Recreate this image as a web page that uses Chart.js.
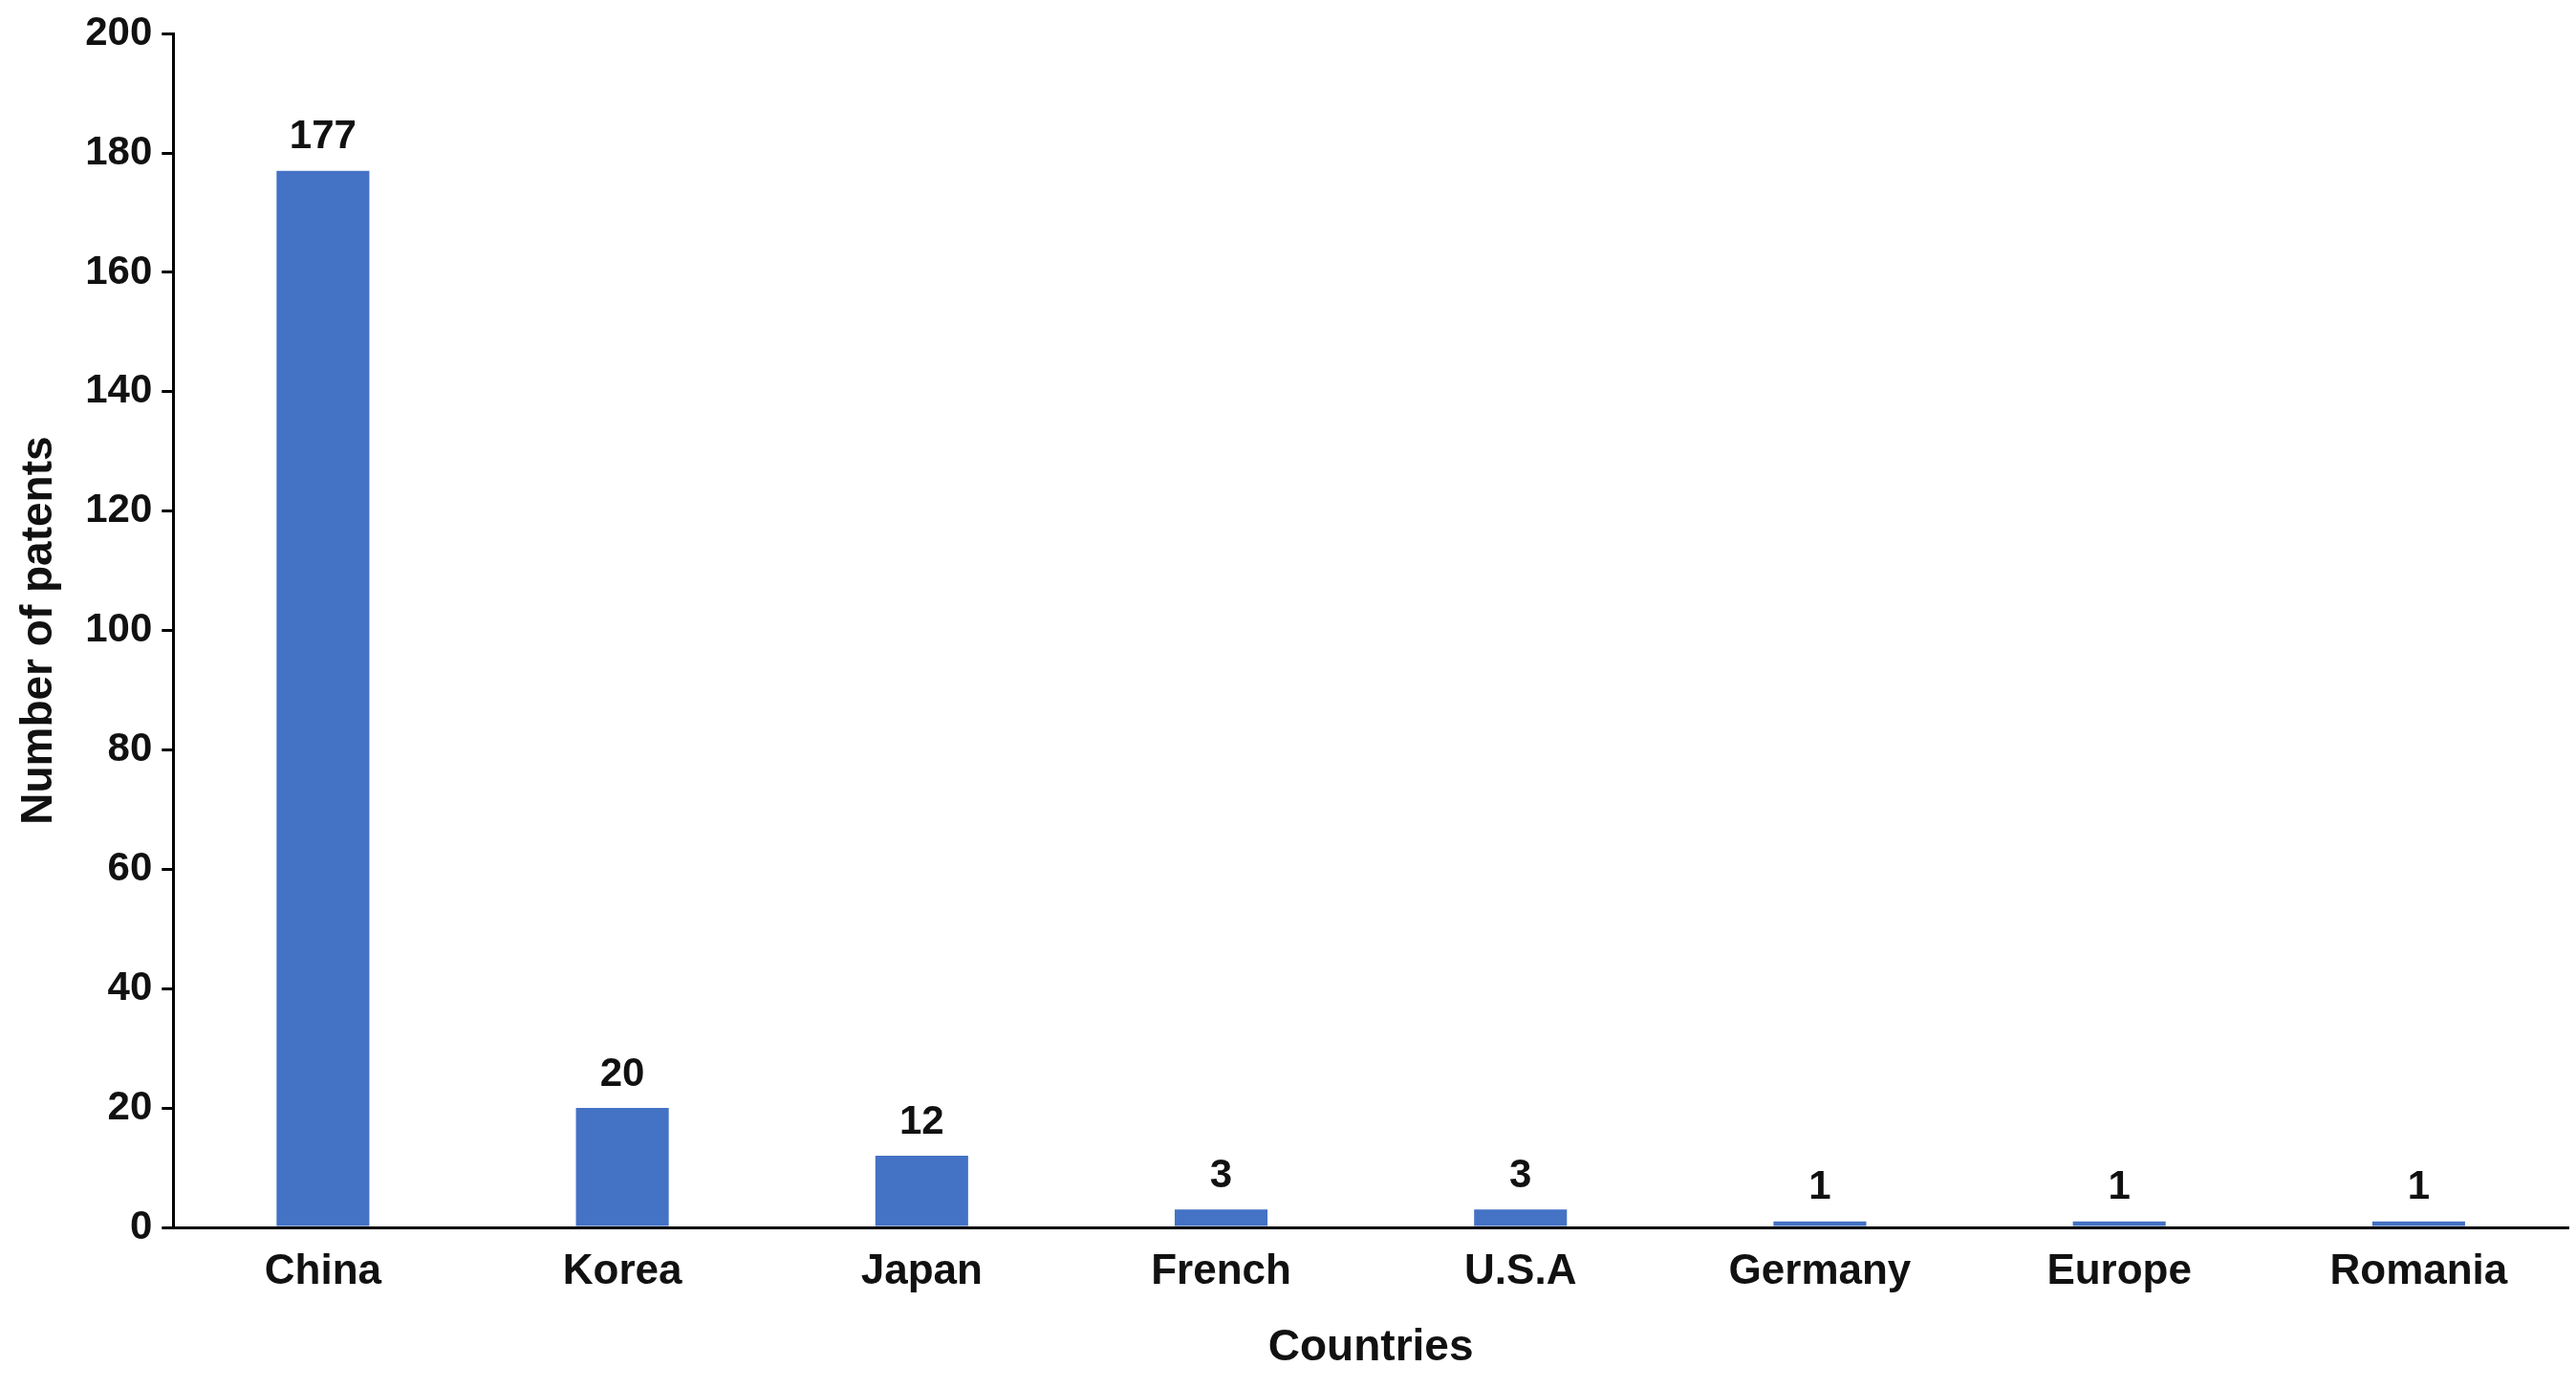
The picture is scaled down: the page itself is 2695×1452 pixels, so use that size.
<!DOCTYPE html>
<html><head><meta charset="utf-8">
<script src="https://cdn.jsdelivr.net/npm/chart.js@4/dist/chart.umd.min.js"></script>
<style>html,body{margin:0;background:#fff}#w{width:2695px;height:1452px}</style>
</head><body><div id="w"><canvas id="c"></canvas></div>
<script>
const categories=["China","Korea","Japan","French","U.S.A","Germany","Europe","Romania"];
const patents=[177,20,12,3,3,1,1,1];
const yTicks=[0,20,40,60,80,100,120,140,160,180,200];
const F="'Liberation Sans', Arial, sans-serif";
const labelPlugin={id:'lbl',afterDatasetsDraw(ch){const ctx=ch.ctx;const m=ch.getDatasetMeta(0);ctx.save();ctx.font="bold 42px "+F;ctx.fillStyle="#111";ctx.textAlign="center";ctx.textBaseline="bottom";m.data.forEach((b,i)=>ctx.fillText(String(patents[i]),b.x,b.y-14));ctx.restore();}};
new Chart(document.getElementById('c'),{type:'bar',
data:{labels:categories,datasets:[{data:patents,backgroundColor:'#4472C4',barPercentage:0.31,categoryPercentage:1}]},
options:{responsive:true,maintainAspectRatio:false,animation:false,
layout:{padding:{left:10,right:8,top:20,bottom:10}},
plugins:{legend:{display:false},tooltip:{enabled:false}},
scales:{
x:{grid:{display:false,drawTicks:false},border:{color:'#000',width:3},ticks:{color:'#111',font:{family:F,size:44,weight:'bold'},padding:20},
title:{display:true,text:'Countries',color:'#111',font:{family:F,size:46,weight:'bold'},padding:{top:6}}},
y:{min:0,max:200,afterBuildTicks(a){a.ticks=yTicks.map(v=>({value:v}));},grid:{display:true,drawOnChartArea:false,drawTicks:true,tickLength:12,color:'#000',lineWidth:3},border:{color:'#000',width:3},
ticks:{color:'#111',font:{family:F,size:42,weight:'bold'},padding:10},
title:{display:true,text:'Number of patents',color:'#111',font:{family:F,size:46,weight:'bold'},padding:{bottom:10}}}
}},plugins:[labelPlugin]});
</script></body></html>
